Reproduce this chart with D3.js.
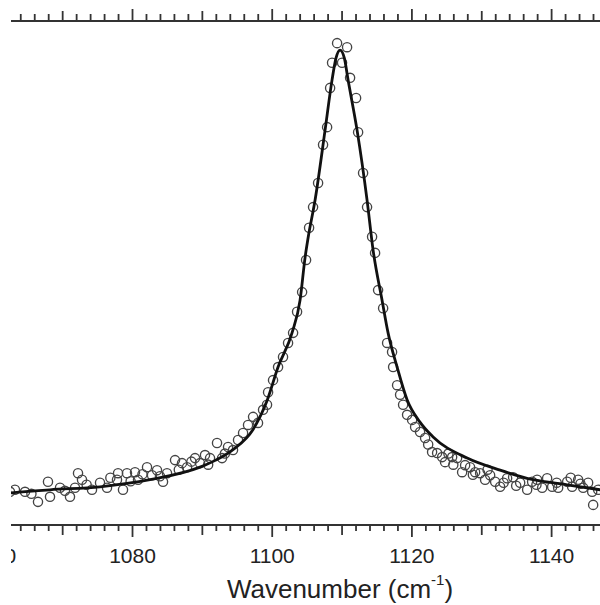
<!DOCTYPE html>
<html>
<head>
<meta charset="utf-8">
<script src="https://cdn.jsdelivr.net/npm/d3@7"></script>
<style>
  html, body { margin: 0; padding: 0; background: #fff; }
  svg { display: block; }
  text { font-family: "Liberation Sans", Arial, Helvetica, sans-serif; fill: #222; }
</style>
</head>
<body>
<svg id="chart" width="600" height="605"></svg>
<script>
let WIDTH = 600, HEIGHT = 605;

// measured spectrum: [wavenumber (cm-1), normalised intensity]
let observed = [
  [1062.53, 0.064], [1063.24, 0.068], [1064.68, 0.064], [1065.60, 0.060], [1066.54, 0.044],
  [1067.97, 0.084], [1068.26, 0.054], [1069.69, 0.072], [1070.40, 0.066], [1071.12, 0.054],
  [1071.84, 0.072], [1072.27, 0.101], [1072.84, 0.088], [1073.50, 0.078], [1074.27, 0.068],
  [1075.42, 0.082], [1076.42, 0.072], [1076.90, 0.092], [1077.85, 0.088], [1078.00, 0.101],
  [1078.71, 0.068], [1079.28, 0.101], [1079.80, 0.085], [1080.43, 0.103], [1080.86, 0.088],
  [1081.50, 0.099], [1082.15, 0.113], [1082.86, 0.097], [1083.58, 0.107], [1084.00, 0.095],
  [1084.44, 0.084], [1085.01, 0.101], [1086.16, 0.127], [1086.70, 0.108], [1087.16, 0.121],
  [1087.88, 0.113], [1088.50, 0.124], [1089.02, 0.131], [1089.74, 0.121], [1090.45, 0.137],
  [1090.90, 0.118], [1091.17, 0.131], [1092.17, 0.161], [1092.89, 0.131], [1093.30, 0.140],
  [1093.75, 0.153], [1094.46, 0.147], [1095.18, 0.167], [1095.90, 0.181], [1096.61, 0.197],
  [1097.33, 0.213], [1098.04, 0.201], [1098.76, 0.227], [1099.33, 0.237], [1099.48, 0.262],
  [1100.19, 0.286], [1100.91, 0.312], [1101.62, 0.332], [1102.34, 0.360], [1103.06, 0.380],
  [1103.63, 0.422], [1104.35, 0.461], [1104.92, 0.525], [1105.35, 0.589], [1105.92, 0.630],
  [1106.64, 0.678], [1107.35, 0.754], [1107.93, 0.789], [1108.36, 0.867], [1108.64, 0.917],
  [1109.36, 0.956], [1110.07, 0.917], [1110.79, 0.948], [1111.22, 0.887], [1112.08, 0.847],
  [1112.37, 0.779], [1113.08, 0.698], [1113.65, 0.630], [1114.37, 0.571], [1114.80, 0.539],
  [1115.23, 0.465], [1115.95, 0.429], [1116.52, 0.360], [1117.23, 0.342], [1117.38, 0.312],
  [1117.95, 0.276], [1118.38, 0.257], [1118.81, 0.237], [1119.38, 0.217], [1120.10, 0.207],
  [1120.53, 0.193], [1121.24, 0.183], [1121.96, 0.171], [1122.40, 0.158], [1122.96, 0.143],
  [1123.68, 0.141], [1124.40, 0.133], [1124.82, 0.123], [1125.30, 0.140], [1125.83, 0.133],
  [1126.00, 0.118], [1126.54, 0.131], [1127.26, 0.103], [1127.69, 0.117], [1128.40, 0.113],
  [1128.80, 0.098], [1129.12, 0.103], [1129.84, 0.101], [1130.55, 0.088], [1130.90, 0.108],
  [1131.27, 0.097], [1131.99, 0.084], [1132.70, 0.074], [1133.20, 0.082], [1133.70, 0.091],
  [1134.56, 0.093], [1135.00, 0.076], [1135.57, 0.082], [1136.57, 0.068], [1137.28, 0.084],
  [1137.90, 0.078], [1138.00, 0.088], [1138.72, 0.072], [1139.43, 0.091], [1140.15, 0.074],
  [1140.80, 0.082], [1141.01, 0.072], [1142.30, 0.084], [1142.80, 0.092], [1143.01, 0.074],
  [1143.87, 0.088], [1144.20, 0.080], [1144.59, 0.072], [1145.30, 0.082], [1145.88, 0.064],
  [1146.02, 0.038], [1146.74, 0.068]
];

// fitted line shape: [wavenumber, intensity]
let fitted = [
  [1061.10, 0.060], [1062.67, 0.062], [1068.26, 0.068], [1075.42, 0.074], [1082.58, 0.088],
  [1089.74, 0.113], [1092.00, 0.127], [1094.46, 0.148], [1097.33, 0.188], [1099.33, 0.245],
  [1100.91, 0.312], [1102.91, 0.380], [1104.06, 0.445], [1104.78, 0.530], [1105.20, 0.568],
  [1106.21, 0.644], [1107.64, 0.783], [1108.64, 0.883], [1109.20, 0.926], [1109.79, 0.942],
  [1110.40, 0.926], [1110.93, 0.883], [1112.22, 0.783], [1113.65, 0.644], [1114.51, 0.545],
  [1115.80, 0.445], [1116.66, 0.380], [1117.95, 0.312], [1119.38, 0.247], [1121.20, 0.203],
  [1123.11, 0.173], [1127.98, 0.131], [1132.70, 0.107], [1137.43, 0.088], [1142.30, 0.078],
  [1147.02, 0.068]
];

let majorTicks = [1060, 1080, 1100, 1120, 1140];
let mediumTicks = [1070, 1090, 1110, 1130];

let svg = d3.select("#chart");

svg.append("defs").append("clipPath")
    .attr("id", "crop")
    .append("rect")
    .attr("x", 11).attr("y", 0)
    .attr("width", WIDTH - 11).attr("height", HEIGHT);

let root = svg.append("g").attr("clip-path", "url(#crop)");

let x = d3.scaleLinear().domain([1061.1, 1147.0]).range([0, WIDTH]);
let y = d3.scaleLinear().domain([0, 1]).range([524, 21]);

let minorTicks = d3.range(1062, 1148, 2).filter(d => d % 10 !== 0);

function styleAxis(g) {
    g.select(".domain").attr("stroke", "#333").attr("stroke-width", 2);
    g.selectAll(".tick line").attr("stroke", "#333").attr("stroke-width", 1.8);
}

// bottom axis: minor, medium, major
let bottomAxis = root.append("g").attr("transform", "translate(0,525)");
bottomAxis.append("g")
    .call(d3.axisBottom(x).tickValues(minorTicks).tickSize(6).tickFormat(""))
    .call(styleAxis);
bottomAxis.append("g")
    .call(d3.axisBottom(x).tickValues(mediumTicks).tickSize(10).tickFormat(""))
    .call(styleAxis);
bottomAxis.append("g")
    .call(d3.axisBottom(x).tickValues(majorTicks).tickSize(12).tickPadding(11).tickFormat(d3.format("d")))
    .call(styleAxis)
    .call(g => g.selectAll(".tick text")
        .attr("font-size", 21)
        .attr("font-family", "Liberation Sans, Arial, sans-serif")
        .attr("fill", "#222"));
bottomAxis.selectAll(".domain").attr("d", "M11,0H600");

// top axis, no labels
let topAxis = root.append("g").attr("transform", "translate(0,21)");
topAxis.append("g")
    .call(d3.axisTop(x).tickValues(minorTicks).tickSize(7).tickFormat(""))
    .call(styleAxis);
topAxis.append("g")
    .call(d3.axisTop(x).tickValues(mediumTicks).tickSize(10).tickFormat(""))
    .call(styleAxis);
topAxis.append("g")
    .call(d3.axisTop(x).tickValues(majorTicks).tickSize(12).tickFormat(""))
    .call(styleAxis);
topAxis.selectAll(".domain").attr("d", "M11,0H600");

// observed points
root.append("g")
    .selectAll("circle")
    .data(observed)
    .join("circle")
    .attr("cx", d => x(d[0]))
    .attr("cy", d => y(d[1]))
    .attr("r", 4.6)
    .attr("fill", "none")
    .attr("stroke", "#444")
    .attr("stroke-width", 1.35);

// fitted curve
let line = d3.line()
    .x(d => x(d[0]))
    .y(d => y(d[1]))
    .curve(d3.curveMonotoneX);
root.append("path")
    .datum(fitted)
    .attr("d", line)
    .attr("fill", "none")
    .attr("stroke", "#111")
    .attr("stroke-width", 2.8);

// axis title
let title = root.append("text")
    .attr("x", 340)
    .attr("y", 598)
    .attr("text-anchor", "middle")
    .attr("font-size", 26);
title.append("tspan").text("Wavenumber (cm");
title.append("tspan").attr("font-size", 15).attr("dy", -13).text("-1");
title.append("tspan").attr("dy", 13).text(")");
</script>
</body>
</html>
